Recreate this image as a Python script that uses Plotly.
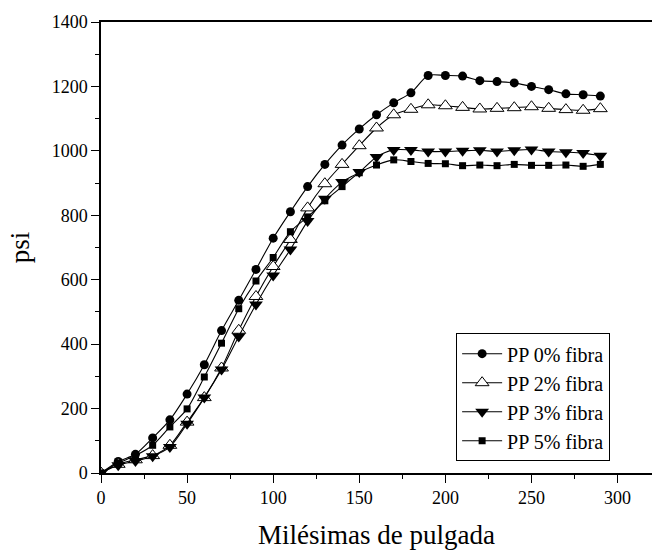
import plotly.graph_objects as go

x_vals = list(range(0, 300, 10))
pp0 = [0, 36, 58, 109, 165, 245, 336, 442, 536, 632, 729, 811, 889, 958, 1018, 1068,
       1112, 1149, 1180, 1234, 1234, 1232, 1218, 1215, 1211, 1200, 1190, 1177, 1174, 1170]
pp2 = [0, 27, 41, 54, 86, 158, 234, 326, 443, 548, 641, 725, 823, 898, 958, 1016,
       1071, 1112, 1129, 1143, 1140, 1135, 1130, 1132, 1134, 1137, 1132, 1128, 1126, 1131]
pp3 = [0, 24, 37, 52, 81, 153, 234, 321, 424, 523, 613, 694, 782, 851, 903, 934,
       981, 1003, 1003, 998, 998, 1000, 1002, 998, 1002, 1004, 998, 996, 993, 985]
pp5 = [0, 31, 54, 86, 143, 199, 298, 403, 510, 596, 669, 749, 795, 845, 889, 932,
       956, 972, 967, 961, 960, 954, 956, 954, 958, 955, 955, 956, 952, 958]

names = ["PP 0% fibra", "PP 2% fibra", "PP 3% fibra", "PP 5% fibra"]
series = [pp0, pp2, pp3, pp5]
markers = [
    dict(symbol="circle", size=9, color="black", line=dict(color="black", width=0)),
    dict(symbol="triangle-up", size=12, color="white", line=dict(color="black", width=1)),
    dict(symbol="triangle-down", size=12, color="black", line=dict(color="black", width=0)),
    dict(symbol="square", size=7, color="black", line=dict(color="black", width=0)),
]

fig = go.Figure()
for name, ys, mk in zip(names, series, markers):
    fig.add_trace(go.Scatter(
        x=x_vals, y=ys, name=name, mode="lines+markers",
        line=dict(color="black", width=1.1, shape="spline", smoothing=0.8),
        marker=mk,
    ))

font_family = "Liberation Serif, Times New Roman, serif"
fig.update_layout(
    width=652, height=550,
    margin=dict(l=101, r=0, t=22, b=77),
    paper_bgcolor="white", plot_bgcolor="white",
    font=dict(family=font_family, size=18, color="black"),
    showlegend=True,
    legend=dict(
        x=0.924, y=0.31, xanchor="right", yanchor="top",
        bordercolor="black", borderwidth=1, bgcolor="white",
        font=dict(family=font_family, size=20, color="black"),
        tracegroupgap=0, itemwidth=40,
    ),
    xaxis=dict(
        range=[0, 320], showgrid=False, zeroline=False,
        showline=True, linecolor="black", linewidth=1.5, mirror=True,
        ticks="outside", ticklen=8, tickwidth=1.2, tickcolor="black",
        tickvals=[0, 50, 100, 150, 200, 250, 300],
        minor=dict(dtick=25, tick0=0, ticks="outside", ticklen=4, tickcolor="black", tickwidth=1),
        title=dict(text="Milésimas de pulgada", font=dict(family=font_family, size=27), standoff=22),
        tickfont=dict(family=font_family, size=18),
    ),
    yaxis=dict(
        range=[0, 1400], showgrid=False, zeroline=False,
        showline=True, linecolor="black", linewidth=1.5,
        ticks="outside", ticklen=8, tickwidth=1.2, tickcolor="black",
        tickvals=[0, 200, 400, 600, 800, 1000, 1200, 1400],
        minor=dict(dtick=100, tick0=0, ticks="outside", ticklen=4, tickcolor="black", tickwidth=1),
        title=dict(text="psi", font=dict(family=font_family, size=27), standoff=14),
        tickfont=dict(family=font_family, size=18),
    ),
)

fig.write_html("out.html")
